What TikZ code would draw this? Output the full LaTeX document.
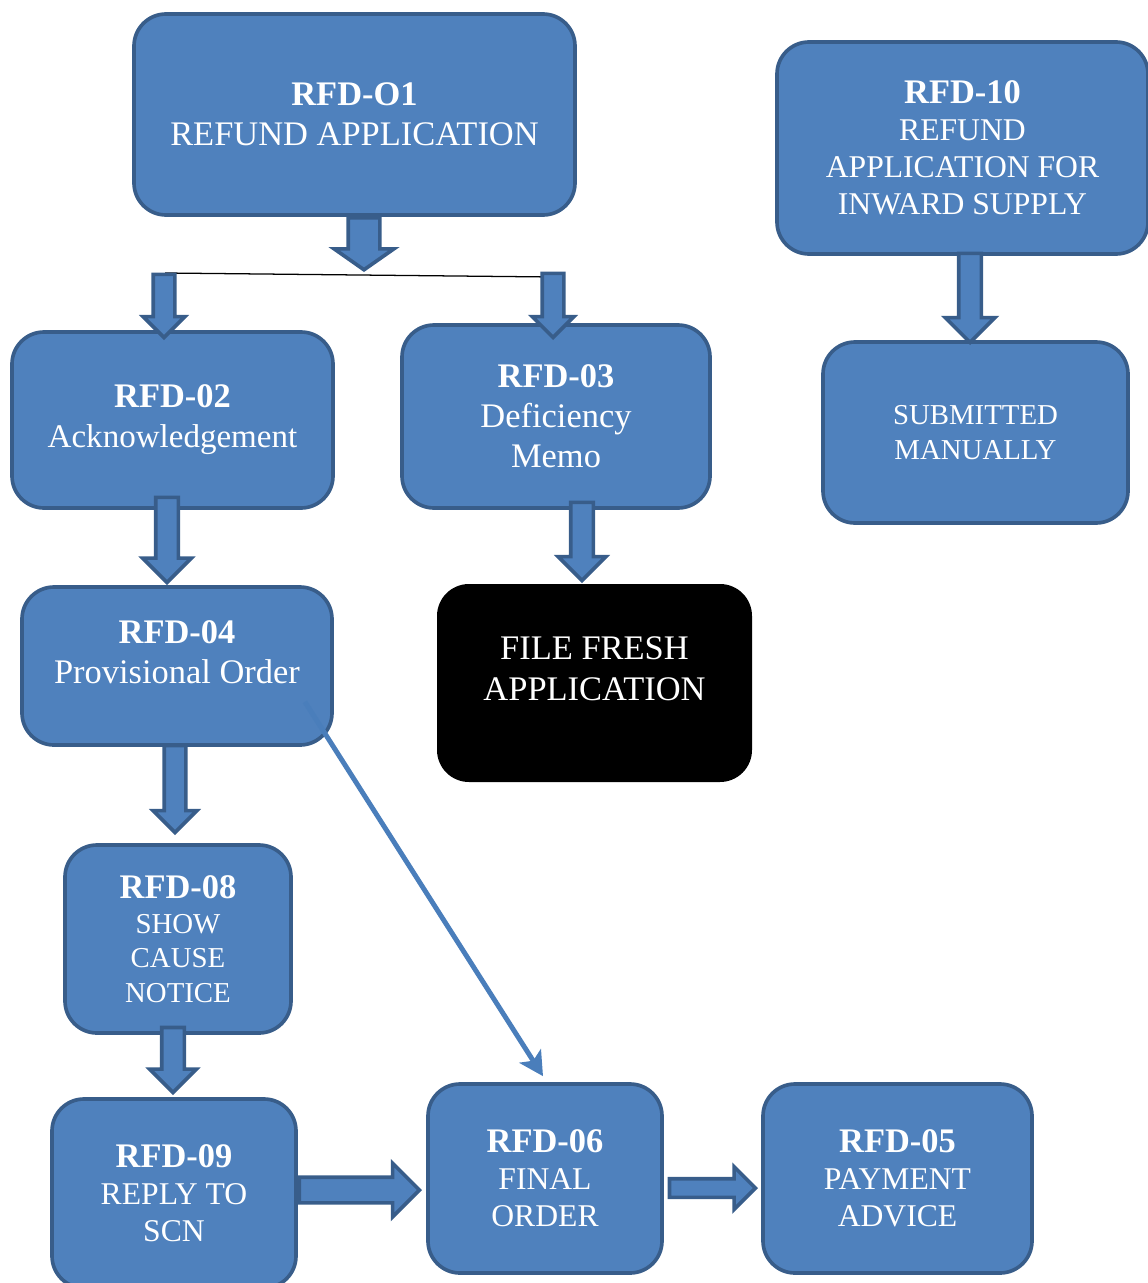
\documentclass[tikz,border=0pt]{standalone}
\usepackage{fontspec}
\setmainfont{Liberation Serif}
\usetikzlibrary{arrows.meta,shapes.arrows,positioning}

\definecolor{rfdblue}{HTML}{4F81BD}
\definecolor{rfdedge}{HTML}{385D8A}
\definecolor{rfdline}{HTML}{4A7EBB}
\def\px{0.025cm}
\newcommand{\bigtxt}{\fontsize{24.5}{28.5}\selectfont}
\newcommand{\midtxt}{\fontsize{22.5}{26.3}\selectfont}
\newcommand{\smalltxt}{\fontsize{20.5}{24.5}\selectfont}

\tikzset{
  box/.style={draw=rfdedge, fill=rfdblue, line width=2.6pt, rounded corners=0.8cm,
    text=white, align=center, inner sep=0pt},
  blk/.style={single arrow, draw=rfdedge, fill=rfdblue, line width=2.6pt, line join=miter},
  dn/.style={blk, shape border rotate=270, anchor=tip},
  rt/.style={blk, anchor=tip},
  link/.style={rfdline, line width=3.5pt, -{Stealth[length=17pt,width=18pt,inset=4pt]}}
}

\begin{document}
\begin{tikzpicture}[x=\px, y=-\px, line join=round]
\useasboundingbox (0,0) rectangle (1148,1283);

% boxes
\node[box, font=\bigtxt, minimum width=441*\px, minimum height=201*\px] (rfd01) at (354.5,114.5)
  {\textbf{RFD-O1}\\REFUND APPLICATION};
\node[box, font=\midtxt, minimum width=371*\px, minimum height=212*\px] (rfd10) at (962.5,148)
  {{\bigtxt\bfseries RFD-10}\\REFUND\\APPLICATION FOR\\INWARD SUPPLY};
\node[box, font=\bigtxt, minimum width=321*\px, minimum height=176*\px] (rfd02) at (172.5,420)
  {\textbf{RFD-02}\\{\fontsize{23.5}{28.5}\selectfont Acknowledgement}};
\node[box, font=\bigtxt, minimum width=308*\px, minimum height=183*\px] (rfd03) at (556,416.5)
  {\textbf{RFD-03}\\Deficiency\\Memo};
\node[box, font=\smalltxt, minimum width=305*\px, minimum height=181*\px] (manual) at (975.5,432.5)
  {SUBMITTED\\MANUALLY};
\node[box, font=\bigtxt, minimum width=310*\px, minimum height=158*\px] (rfd04) at (177,666)
  {\textbf{RFD-04}\\Provisional Order\\[-8pt]\mbox{}};
\node[box, draw=none, fill=black, font=\bigtxt, minimum width=315*\px, minimum height=198*\px] (fresh) at (594.5,683)
  {FILE FRESH\\APPLICATION\\[-8pt]\mbox{}};
\node[box, font=\smalltxt, minimum width=226*\px, minimum height=188*\px] (rfd08) at (178,939)
  {{\bigtxt\bfseries RFD-08}\\SHOW\\CAUSE\\NOTICE};
\node[box, font=\midtxt, minimum width=244*\px, minimum height=189*\px] (rfd09) at (174,1193.5)
  {{\bigtxt\bfseries RFD-09}\\REPLY TO\\SCN};
\node[box, font=\midtxt, minimum width=234*\px, minimum height=189*\px] (rfd06) at (545,1178.5)
  {{\bigtxt\bfseries RFD-06}\\FINAL\\ORDER};
\node[box, font=\midtxt, minimum width=269*\px, minimum height=189*\px] (rfd05) at (897.5,1178.5)
  {{\bigtxt\bfseries RFD-05}\\PAYMENT\\ADVICE};

% block arrows
\node[dn, minimum height=52*\px, inner sep=14*\px, single arrow head extend=14*\px, single arrow tip angle=110] (a01) at (364,272) {};
\coordinate (jl) at (165,273);
\coordinate (jr) at (553,277);
\draw[line width=0.9pt] (jl) -- (jr);
\node[dn, minimum height=63*\px, inner sep=9*\px, single arrow head extend=10*\px] (a02) at (164,340) {};
\node[dn, minimum height=64*\px, inner sep=9*\px, single arrow head extend=10*\px] (a03) at (553,340) {};
\node[dn, minimum height=85*\px, inner sep=9.5*\px, single arrow head extend=13*\px] (a24) at (167,585) {};
\node[dn, minimum height=78*\px, inner sep=9.5*\px, single arrow head extend=12.5*\px] (a3f) at (582,583) {};
\node[dn, minimum height=89*\px, inner sep=9.5*\px, single arrow head extend=13.5*\px] (a10) at (970,345) {};
\node[dn, minimum height=87*\px, inner sep=9*\px, single arrow head extend=11*\px] (a48) at (175,835) {};
\node[dn, minimum height=65*\px, inner sep=9.5*\px, single arrow head extend=12*\px] (a89) at (173,1095) {};
\node[rt, minimum height=120*\px, inner sep=11*\px, single arrow head extend=14*\px] (a96) at (422,1190) {};
\node[rt, minimum height=86*\px, inner sep=7.5*\px, single arrow head extend=12*\px] (a65) at (758,1188) {};

% link to final order
\draw[link] ([shift={(-29,-45)}]rfd04.south east) -- ([shift={(-2,-6)}]rfd06.north);
\end{tikzpicture}
\end{document}
